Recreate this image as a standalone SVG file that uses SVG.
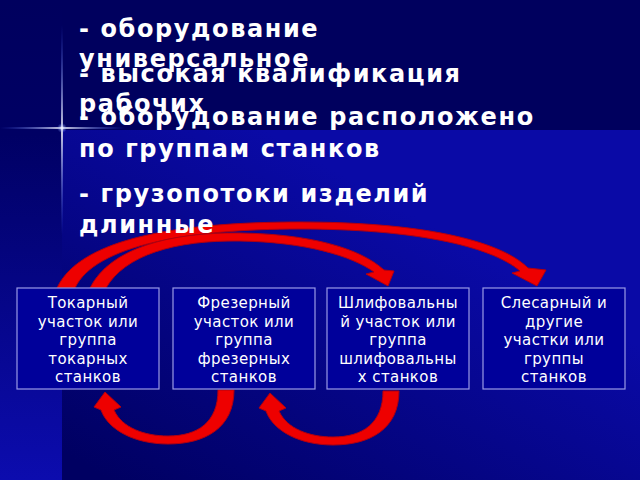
<svg xmlns="http://www.w3.org/2000/svg" width="640" height="480" viewBox="0 0 640 480">
<defs>
<linearGradient id="gLeft" x1="0" y1="0" x2="0" y2="1">
<stop offset="0" stop-color="#00005e"/>
<stop offset="0.28" stop-color="#000064"/>
<stop offset="1" stop-color="#0c0cae"/>
</linearGradient>
<linearGradient id="gMain" gradientUnits="userSpaceOnUse" x1="110" y1="480" x2="300" y2="150">
<stop offset="0" stop-color="#000062"/>
<stop offset="1" stop-color="#0a0aa6"/>
</linearGradient>
<linearGradient id="gH" x1="0" y1="0" x2="1" y2="0">
<stop offset="0" stop-color="#4060ff" stop-opacity="0"/>
<stop offset="0.5" stop-color="#ffffff" stop-opacity="1"/>
<stop offset="1" stop-color="#4060ff" stop-opacity="0"/>
</linearGradient>
<linearGradient id="gV" x1="0" y1="0" x2="0" y2="1">
<stop offset="0" stop-color="#4060ff" stop-opacity="0"/>
<stop offset="0.5" stop-color="#ffffff" stop-opacity="1"/>
<stop offset="1" stop-color="#4060ff" stop-opacity="0"/>
</linearGradient>
<radialGradient id="gGlow">
<stop offset="0" stop-color="#ffffff" stop-opacity="0.9"/>
<stop offset="1" stop-color="#6080ff" stop-opacity="0"/>
</radialGradient>
</defs>
<style>
.head{font-family:"DejaVu Sans","Noto Sans",sans-serif;font-weight:bold;font-size:24px;fill:#ffffff;letter-spacing:1.6px}
.box{fill:#00009a;stroke:#9a9ae6;stroke-width:1.2}
.lbl{font-family:"DejaVu Sans","Noto Sans",sans-serif;font-size:15px;fill:#ffffff;text-anchor:middle;letter-spacing:0.4px}
.arr{fill:#ee0000;stroke:#b00010;stroke-width:1;stroke-linejoin:round}
</style>
<!-- background -->
<rect x="0" y="0" width="640" height="480" fill="#00005e"/>
<rect x="62" y="130" width="578" height="350" fill="url(#gMain)"/>
<rect x="0" y="0" width="62" height="480" fill="url(#gLeft)"/>
<!-- flare -->
<rect x="0" y="127.2" width="125" height="1.6" fill="url(#gH)"/>
<rect x="61.2" y="25" width="1.6" height="210" fill="url(#gV)"/>
<circle cx="62" cy="128" r="5" fill="url(#gGlow)"/>
<!-- connectors -->
<g id="connectors">
<path class="arr" d="M 57,288 C 80,238 180,222 300,222 C 420,222 500,240 528,268 L 546,270 L 537,286 L 512,273 L 520,271 C 490,245 410,229 300,229 C 190,229 95,245 75,288 Z"/>
<path class="arr" d="M 90,288 C 110,248 170,232 240,233 C 310,234 360,248 384,270 L 394,271 L 388,286 L 366,274 L 374,272 C 352,256 305,242 240,241 C 175,240 125,255 106,288 Z"/>
<path class="arr" d="M 234,390 C 234,428 205,444 168,444 C 135,444 108,430 101,410 L 94,407 L 105,392 L 121,407 L 114,410 C 122,428 145,436 168,436 C 198,436 218,422 218,390 Z"/>
<path class="arr" transform="translate(165,1)" d="M 234,390 C 234,428 205,444 168,444 C 135,444 108,430 101,410 L 94,407 L 105,392 L 121,407 L 114,410 C 122,428 145,436 168,436 C 198,436 218,422 218,390 Z"/>
</g>
<!-- heading text -->
<g id="text">
<text class="head" x="79" y="37">- оборудование</text>
<text class="head" x="79" y="67">универсальное</text>
<text class="head" x="79" y="82">- высокая квалификация</text>
<text class="head" x="79" y="112">рабочих</text>
<text class="head" x="79" y="125">- оборудование расположено</text>
<text class="head" x="79" y="157">по группам станков</text>
<text class="head" x="79" y="202">- грузопотоки изделий</text>
<text class="head" x="79" y="233">длинные</text>
</g>
<!-- nodes -->
<g id="node1">
<rect class="box" x="17" y="288" width="142" height="101"/>
<text class="lbl" x="88" y="308">Токарный</text>
<text class="lbl" x="88" y="327">участок или</text>
<text class="lbl" x="88" y="345">группа</text>
<text class="lbl" x="88" y="364">токарных</text>
<text class="lbl" x="88" y="382">станков</text>
</g>
<g id="node2">
<rect class="box" x="173" y="288" width="142" height="101"/>
<text class="lbl" x="244" y="308">Фрезерный</text>
<text class="lbl" x="244" y="327">участок или</text>
<text class="lbl" x="244" y="345">группа</text>
<text class="lbl" x="244" y="364">фрезерных</text>
<text class="lbl" x="244" y="382">станков</text>
</g>
<g id="node3">
<rect class="box" x="327" y="288" width="142" height="101"/>
<text class="lbl" x="398" y="308">Шлифовальны</text>
<text class="lbl" x="398" y="327">й участок или</text>
<text class="lbl" x="398" y="345">группа</text>
<text class="lbl" x="398" y="364">шлифовальны</text>
<text class="lbl" x="398" y="382">х станков</text>
</g>
<g id="node4">
<rect class="box" x="483" y="288" width="142" height="101"/>
<text class="lbl" x="554" y="308">Слесарный и</text>
<text class="lbl" x="554" y="327">другие</text>
<text class="lbl" x="554" y="345">участки или</text>
<text class="lbl" x="554" y="364">группы</text>
<text class="lbl" x="554" y="382">станков</text>
</g>
</svg>
